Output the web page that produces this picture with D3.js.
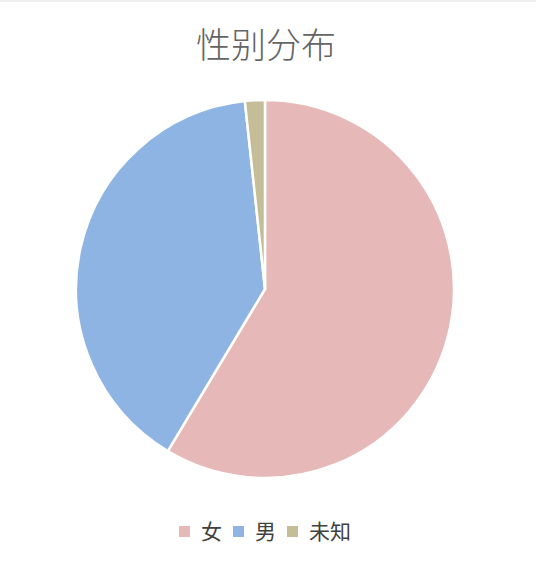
<!DOCTYPE html>
<html>
<head>
<meta charset="utf-8">
<script src="https://cdn.jsdelivr.net/npm/d3@7"></script>
<style>
  body { margin: 0; background: #fff; }
  svg { display: block; }
</style>
</head>
<body>
<main></main>
<script>
!function(){
    var w = 536;
    var h = 565;

    // (share of total)
    const categories = ['女', '男', '未知'];
    const values = [58.6, 39.7, 1.7];
    const colors = ['#e6b8b7', '#8eb4e3', '#c4bd97'];

    let svg = d3.select('main').append('svg')
        .attr('width', w)
        .attr('height', h)
        .style('font-family', '"Noto Sans CJK SC", "Noto Sans", sans-serif');

    // thin grey edge at the very top
    svg.append('rect')
        .attr('width', w).attr('height', 2)
        .attr('fill', '#f0f0f0');

    svg.append('text')
        .attr('x', 266)
        .attr('y', 58)
        .attr('text-anchor', 'middle')
        .attr('fill', '#646464')
        .style('font-size', '35px')
        .style('font-weight', 300)
        .text('性别分布');

    let data = categories.map((c, i) => ({ name: c, value: values[i] }));
    let color = d3.scaleOrdinal().domain(categories).range(colors);

    let pie = d3.pie().sort(null).value(d => d.value);
    let arc = d3.arc().innerRadius(0).outerRadius(189);

    let g = svg.append('g')
        .attr('transform', 'translate(265,289)');

    g.selectAll('path')
        .data(pie(data))
        .enter().append('path')
        .attr('d', arc)
        .attr('fill', d => color(d.data.name))
        .attr('stroke', '#fff')
        .attr('stroke-width', 2.5)
        .attr('stroke-linejoin', 'round');

    // legend, centred under the pie
    let legend = svg.append('g');
    let x = 0;
    categories.forEach((c, i) => {
        let item = legend.append('g').attr('transform', 'translate(' + x + ',0)');
        item.append('rect')
            .attr('y', -6).attr('width', 11).attr('height', 11)
            .attr('fill', color(c));
        let t = item.append('text')
            .attr('x', 22)
            .attr('dy', '0.35em')
            .attr('fill', '#404040')
            .style('font-size', '21px')
            .text(c);
        x += 22 + t.node().getComputedTextLength() + 11;
    });
    let lw = x - 11;
    legend.attr('transform', 'translate(' + (265 - lw / 2) + ',532)');
}();
</script>
</body>
</html>
